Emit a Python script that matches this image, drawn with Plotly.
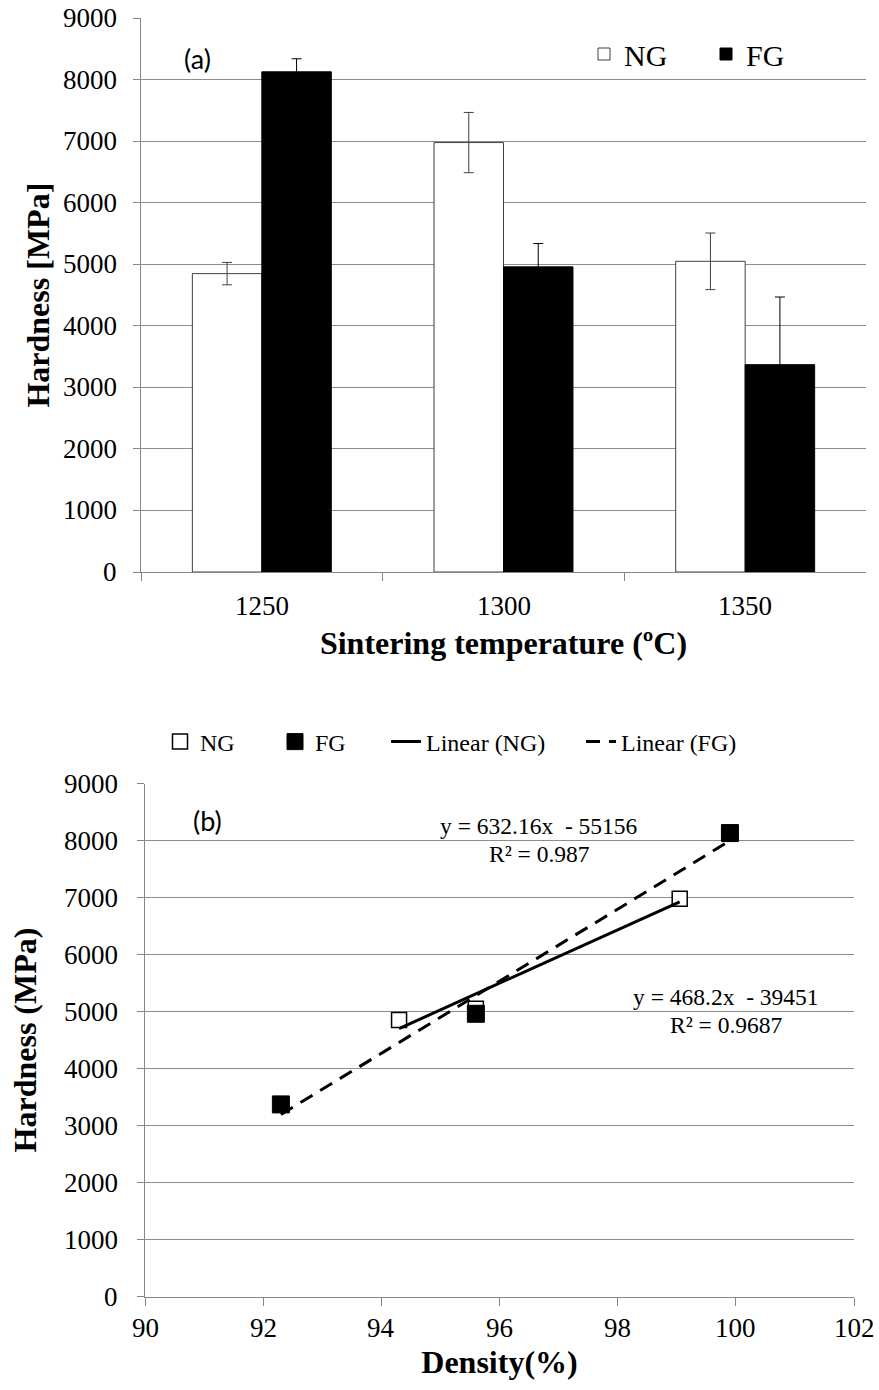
import plotly.graph_objects as go

# ---- data: panel (a) ----
temps = ["1250", "1300", "1350"]
ng_hard = [4850, 6980, 5050]
ng_err = [182, 490, 460]
fg_hard = [8130, 4960, 3370]
fg_err = [212, 379, 1100]

# ---- data: panel (b) ----
ng_density = [94.3, 95.6, 99.05]
ng_hard_b = [4850, 5050, 6980]
fg_density = [92.3, 95.6, 99.9]
fg_hard_b = [3370, 4960, 8130]
ng_fit = [468.2, -39451]    # slope, intercept (as printed)
fg_fit = [632.16, -55156]
ng_r2 = 0.9687
fg_r2 = 0.987

# ---- tick labels ----
hard_ticks = [0, 1000, 2000, 3000, 4000, 5000, 6000, 7000, 8000, 9000]
density_ticks = [90, 92, 94, 96, 98, 100, 102]

W, H = 879, 1390
SERIF = "Liberation Serif"
GRID = "#8c8c8c"
AX = "#868686"


def px_x(p):
    return p / W


def px_y(p):
    return 1 - p / H


fig = go.Figure()

fig.add_trace(go.Bar(
    x=temps, y=ng_hard, name="NG", legend="legend",
    marker=dict(color="white", line=dict(color="#404040", width=1)),
    error_y=dict(type="data", array=ng_err, color="#404040", thickness=1, width=5),
    xaxis="x", yaxis="y"))
fig.add_trace(go.Bar(
    x=temps, y=fg_hard, name="FG", legend="legend2",
    marker=dict(color="black", line=dict(color="black", width=1)),
    error_y=dict(type="data", array=fg_err, color="black", thickness=1, width=5),
    xaxis="x", yaxis="y"))

fig.add_trace(go.Scatter(
    x=ng_density, y=ng_hard_b, mode="markers", name="NG", legend="legend3",
    marker=dict(symbol="square", size=15, color="white", line=dict(color="black", width=1.5)),
    xaxis="x2", yaxis="y2"))
fig.add_trace(go.Scatter(
    x=fg_density, y=fg_hard_b, mode="markers", name="FG", legend="legend4",
    marker=dict(symbol="square", size=17, color="black", line=dict(color="black", width=1)),
    xaxis="x2", yaxis="y2"))

ng_x = [min(ng_density), max(ng_density)]
fg_x = [min(fg_density), max(fg_density)]
fig.add_trace(go.Scatter(
    x=ng_x, y=[ng_fit[0] * v + ng_fit[1] for v in ng_x], mode="lines",
    name="Linear (NG)", legend="legend5",
    line=dict(color="black", width=3), xaxis="x2", yaxis="y2"))
fig.add_trace(go.Scatter(
    x=fg_x, y=[fg_fit[0] * v + fg_fit[1] for v in fg_x], mode="lines",
    name="Linear (FG)", legend="legend6",
    line=dict(color="black", width=3, dash="14px,9px"), xaxis="x2", yaxis="y2"))

titlefont = dict(family=SERIF, size=32, color="black", weight="bold")
tickfont = dict(family=SERIF, size=27, color="black")


def leg(xc, yc, size):
    return dict(orientation="h", x=px_x(xc), y=px_y(yc), xanchor="left", yanchor="middle",
                font=dict(family=SERIF, size=size, color="black"),
                bgcolor="rgba(0,0,0,0)", borderwidth=0, itemsizing="trace")


yax = dict(range=[0, 9000], tickmode="array", tickvals=hard_ticks, showticklabels=False,
           showgrid=True, gridcolor=GRID, gridwidth=1,
           showline=True, linecolor=AX, linewidth=1, ticks="outside", ticklen=7,
           tickcolor=AX, zeroline=False, automargin=False)

fig.update_layout(
    template="none",
    width=W, height=H, margin=dict(l=0, r=0, t=0, b=0, autoexpand=False),
    font=dict(family=SERIF, color="black"),
    paper_bgcolor="white", plot_bgcolor="white",
    barmode="group", bargap=0.425, bargroupgap=0,
    xaxis=dict(domain=[px_x(141), px_x(866)], anchor="y", type="category",
               range=[-0.5, len(temps) - 0.5], showticklabels=False,
               tickson="boundaries", ticks="outside", ticklen=8, tickcolor=AX,
               showline=True, linecolor=AX, linewidth=1, showgrid=False, zeroline=False,
               automargin=False,
               title=dict(text="Sintering temperature (ºC)", font=titlefont, standoff=59)),
    yaxis=dict(domain=[px_y(572), px_y(18.3)], anchor="x",
               title=dict(text="Hardness [MPa]", font=titlefont, standoff=73), **yax),
    xaxis2=dict(domain=[px_x(145), px_x(854)], anchor="y2", range=[90, 102],
                tickmode="array", tickvals=density_ticks, showticklabels=False,
                ticks="outside", ticklen=8, tickcolor=AX, showline=True, linecolor=AX,
                linewidth=1, showgrid=False, zeroline=False, automargin=False,
                title=dict(text="Density(%)", font=titlefont, standoff=46)),
    yaxis2=dict(domain=[px_y(1296.5), px_y(783.5)], anchor="x2",
                title=dict(text="Hardness (MPa)", font=titlefont, standoff=90), **yax),
    legend=leg(584, 54, 30),
    legend2=leg(706, 54, 30),
    legend3=leg(160, 742, 24),
    legend4=leg(275, 742, 24),
    legend5=leg(386, 742, 24),
    legend6=leg(581, 742, 24),
    showlegend=True,
)

# tick labels as serif text placed through the axes' scales
for i, t in enumerate(temps):
    fig.add_annotation(text=t, x=i, xref="x", y=0, yref="y domain", yanchor="middle",
                       xanchor="center", yshift=-34, showarrow=False, font=tickfont)
for v in hard_ticks:
    fig.add_annotation(text=str(v), x=0, xref="x domain", y=v, yref="y", xanchor="right",
                       yanchor="middle", xshift=-22, showarrow=False, font=tickfont)
    fig.add_annotation(text=str(v), x=0, xref="x2 domain", y=v, yref="y2", xanchor="right",
                       yanchor="middle", xshift=-25, showarrow=False, font=tickfont)
for v in density_ticks:
    fig.add_annotation(text=str(v), x=v, xref="x2", y=0, yref="y2 domain", yanchor="middle",
                       xanchor="center", yshift=-31, showarrow=False, font=tickfont)

ann_font = dict(family=SERIF, size=23.5, color="black")


def ann(text, xc, yc, font):
    fig.add_annotation(text=text, x=px_x(xc), y=px_y(yc), xref="paper", yref="paper",
                       xanchor="center", yanchor="middle", showarrow=False, font=font)


ann("(a)", 197, 58, dict(family="Lato", size=27, color="black"))
ann("(b)", 207, 821, dict(family="Lato", size=27, color="black"))
ann(f"y = {fg_fit[0]}x  - {abs(fg_fit[1])}", 539, 826, ann_font)
ann(f"R² = {fg_r2}", 539, 854, ann_font)
ann(f"y = {ng_fit[0]}x  - {abs(ng_fit[1])}", 726, 997, ann_font)
ann(f"R² = {ng_r2}", 726, 1025, ann_font)

fig.write_html("out.html")
